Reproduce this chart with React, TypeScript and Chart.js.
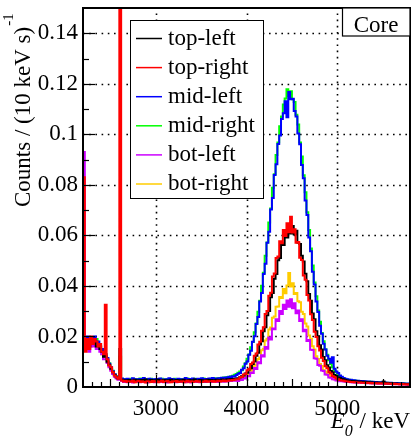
import React, { useEffect, useRef } from "react";
import { Chart, registerables } from "chart.js";

Chart.register(...registerables);

// ---- data (counts per 20 keV bin, bins start at 2200 keV) ----
const BIN_START = 2200;
const BIN_WIDTH = 20;
const X_MIN = 2200;
const X_MAX = 5800;
const Y_MAX = 0.15;

const seriesLabels = ["top-left", "top-right", "mid-left", "mid-right", "bot-left", "bot-right"];
const seriesColors = ["#000000", "#ff0000", "#0000ff", "#00ff00", "#cc00ff", "#ffcc00"];
const seriesDrawOrder = [1, 0, 4, 5, 2, 3]; // lower = drawn on top

const xTickValues = [3000, 4000, 5000];
const yTickValues = [0, 0.02, 0.04, 0.06, 0.08, 0.1, 0.12, 0.14];

const topLeft = [
  0.019, 0.015, 0.017, 0.016, 0.018, 0.017, 0.018, 0.016, 0.016, 0.015,
  0.014, 0.012, 0.013, 0.010, 0.0088, 0.0072, 0.0058, 0.0047, 0.0039, 0.0034,
  0.015,
  0.0029, 0.0025, 0.0027, 0.0023, 0.0028, 0.0026, 0.0024, 0.0029, 0.0025, 0.0027,
  0.0022, 0.0028, 0.0026, 0.0030, 0.0024, 0.0026, 0.0028, 0.0023, 0.0027, 0.0025,
  0.0029, 0.0024, 0.0026, 0.0028, 0.0022, 0.0027, 0.0025, 0.0029, 0.0026, 0.0024,
  0.0028, 0.0025, 0.0027, 0.0023, 0.0029, 0.0026, 0.0024, 0.0028, 0.0025, 0.0027,
  0.0030, 0.0024, 0.0026, 0.0028, 0.0025, 0.0027, 0.0023, 0.0029, 0.0026, 0.0028,
  0.0025, 0.0027, 0.0029, 0.0026, 0.0028, 0.0030, 0.0027, 0.0029, 0.0031, 0.0028,
  0.0032, 0.0030, 0.0033, 0.0034,
  0.0035, 0.0039, 0.0043, 0.0046, 0.0053, 0.0056, 0.0069, 0.0074, 0.0091, 0.0101,
  0.0124, 0.0136, 0.0168, 0.0181, 0.0221, 0.0236, 0.0284, 0.0301, 0.0355, 0.0372,
  0.0428, 0.0447, 0.0502, 0.0511, 0.0568, 0.0562, 0.0611, 0.0592, 0.0641, 0.0608,
  0.0637, 0.0604, 0.0618, 0.0571, 0.0566, 0.0519, 0.0497, 0.0448, 0.0419, 0.0368,
  0.0341, 0.0291, 0.0268, 0.0221, 0.0201, 0.0165, 0.0148, 0.0119, 0.0106, 0.0086,
  0.0077, 0.0063, 0.0058, 0.0047, 0.0044, 0.0038, 0.0036, 0.0032, 0.0031, 0.0028,
  0.0026, 0.0025, 0.0024, 0.0024, 0.0022, 0.0023, 0.0021, 0.0022, 0.0020, 0.0021,
  0.0019, 0.0020, 0.0018, 0.0019, 0.0018, 0.0017, 0.0018, 0.0016, 0.0017, 0.0016,
  0.0022, 0.0016, 0.0015, 0.0014, 0.0015, 0.0014, 0.0013, 0.0014, 0.0013, 0.0013,
  0.0012, 0.0013, 0.0012, 0.0012, 0.0011,
];

const topRight = [
  0.083, 0.014, 0.019, 0.015, 0.020, 0.017, 0.019, 0.018, 0.016, 0.017,
  0.014, 0.013, 0.0326, 0.011, 0.0085, 0.0078, 0.0058, 0.0046, 0.0039, 0.0033,
  0.2,
  0.0026, 0.0022, 0.0024, 0.0020, 0.0023, 0.0021, 0.0025, 0.0019, 0.0022, 0.0024,
  0.0020, 0.0023, 0.0021, 0.0018, 0.0023, 0.0022, 0.0020, 0.0024, 0.0021, 0.0023,
  0.0019, 0.0022, 0.0025, 0.0020, 0.0022, 0.0024, 0.0021, 0.0019, 0.0023, 0.0021,
  0.0024, 0.0020, 0.0022, 0.0023, 0.0019, 0.0022, 0.0025, 0.0021, 0.0023, 0.0020,
  0.0022, 0.0024, 0.0021, 0.0023, 0.0020, 0.0022, 0.0025, 0.0021, 0.0023, 0.0022,
  0.0024, 0.0021, 0.0023, 0.0025, 0.0022, 0.0024, 0.0026, 0.0023, 0.0025, 0.0027,
  0.0026, 0.0028, 0.0029, 0.0031,
  0.0031, 0.0039, 0.0040, 0.0049, 0.0052, 0.0066, 0.0071, 0.0091, 0.0097, 0.0124,
  0.0133, 0.0168, 0.0179, 0.0223, 0.0236, 0.0289, 0.0301, 0.0361, 0.0373, 0.0437,
  0.0449, 0.0511, 0.0516, 0.0577, 0.0569, 0.0621, 0.0598, 0.0648, 0.0612, 0.0674,
  0.0611, 0.0624, 0.0571, 0.0574, 0.0512, 0.0503, 0.0441, 0.0424, 0.0364, 0.0342,
  0.0288, 0.0265, 0.0219, 0.0198, 0.0161, 0.0144, 0.0116, 0.0103, 0.0082, 0.0074,
  0.0059, 0.0053, 0.0044, 0.0040, 0.0034, 0.0031, 0.0028, 0.0026, 0.0025, 0.0023,
  0.0022, 0.0021, 0.0020, 0.0020, 0.0019, 0.0019, 0.0018, 0.0018, 0.0017, 0.0017,
  0.0016, 0.0017, 0.0016, 0.0015, 0.0016, 0.0015, 0.0015, 0.0014, 0.0015, 0.0014,
  0.0014, 0.0013, 0.0014, 0.0013, 0.0013, 0.0012, 0.0013, 0.0012, 0.0012, 0.0011,
  0.0012, 0.0011, 0.0011, 0.0010, 0.0011,
];

const midLeft = [
  0.018, 0.017, 0.020, 0.016, 0.019, 0.018, 0.020, 0.017, 0.018, 0.016,
  0.015, 0.013, 0.012, 0.0115, 0.0092, 0.0078, 0.0062, 0.0050, 0.0042, 0.0037,
  0.0035,
  0.0034, 0.0031, 0.0029, 0.0033, 0.0027, 0.0030, 0.0035, 0.0028, 0.0031, 0.0026,
  0.0032, 0.0029, 0.0036, 0.0027, 0.0030, 0.0033, 0.0028, 0.0031, 0.0025, 0.0032,
  0.0029, 0.0034, 0.0027, 0.0030, 0.0031, 0.0028, 0.0035, 0.0029, 0.0032, 0.0026,
  0.0030, 0.0033, 0.0028, 0.0031, 0.0029, 0.0036, 0.0027, 0.0032, 0.0030, 0.0034,
  0.0028, 0.0031, 0.0033, 0.0029, 0.0035, 0.0030, 0.0032, 0.0028, 0.0034, 0.0031,
  0.0036, 0.0030, 0.0033, 0.0035, 0.0031, 0.0037, 0.0034, 0.0038, 0.0036, 0.0041,
  0.0039, 0.0043, 0.0042, 0.0047,
  0.0052, 0.0055, 0.0068, 0.0074, 0.0092, 0.0101, 0.0128, 0.0143, 0.0179, 0.0201,
  0.0249, 0.0277, 0.0338, 0.0372, 0.0447, 0.0488, 0.0571, 0.0614, 0.0703, 0.0748,
  0.0839, 0.0882, 0.0962, 0.0995, 0.1061, 0.1083, 0.1131, 0.1068, 0.1168, 0.1139,
  0.1141, 0.1092, 0.1071, 0.1003, 0.0961, 0.0879, 0.0826, 0.0738, 0.0681, 0.0592,
  0.0537, 0.0456, 0.0406, 0.0338, 0.0297, 0.0242, 0.0211, 0.0171, 0.0148, 0.0124,
  0.0112, 0.0096, 0.0118, 0.0072, 0.0061, 0.0055, 0.0046, 0.0041, 0.0036, 0.0033,
  0.0031, 0.0028, 0.0029, 0.0026, 0.0027, 0.0024, 0.0025, 0.0023, 0.0024, 0.0022,
  0.0023, 0.0021, 0.0022, 0.0020, 0.0021, 0.0019, 0.0020, 0.0019, 0.0018, 0.0019,
  0.0017, 0.0018, 0.0017, 0.0016, 0.0017, 0.0016, 0.0015, 0.0016, 0.0015, 0.0014,
  0.0015, 0.0014, 0.0014, 0.0013, 0.0014,
];

const midRight = [
  0.019, 0.016, 0.018, 0.018, 0.017, 0.019, 0.018, 0.019, 0.017, 0.016,
  0.015, 0.0135, 0.012, 0.0105, 0.0094, 0.0074, 0.0064, 0.0049, 0.0043, 0.0036,
  0.0033,
  0.0031, 0.0028, 0.0032, 0.0027, 0.0030, 0.0033, 0.0026, 0.0029, 0.0031, 0.0028,
  0.0034, 0.0027, 0.0029, 0.0032, 0.0026, 0.0030, 0.0033, 0.0028, 0.0030, 0.0027,
  0.0031, 0.0029, 0.0033, 0.0026, 0.0030, 0.0032, 0.0028, 0.0031, 0.0027, 0.0033,
  0.0029, 0.0028, 0.0032, 0.0030, 0.0027, 0.0031, 0.0034, 0.0028, 0.0030, 0.0029,
  0.0033, 0.0027, 0.0031, 0.0030, 0.0028, 0.0034, 0.0029, 0.0032, 0.0030, 0.0033,
  0.0031, 0.0035, 0.0032, 0.0034, 0.0036, 0.0033, 0.0038, 0.0036, 0.0040, 0.0039,
  0.0043, 0.0045, 0.0048, 0.0051,
  0.0056, 0.0061, 0.0066, 0.0081, 0.0094, 0.0112, 0.0129, 0.0157, 0.0178, 0.0217,
  0.0251, 0.0298, 0.0341, 0.0401, 0.0452, 0.0519, 0.0572, 0.0651, 0.0706, 0.0789,
  0.0842, 0.0918, 0.0968, 0.1032, 0.1071, 0.1118, 0.1142, 0.1178, 0.1152, 0.1171,
  0.1139, 0.1128, 0.1078, 0.1039, 0.0968, 0.0912, 0.0838, 0.0771, 0.0692, 0.0621,
  0.0548, 0.0481, 0.0414, 0.0359, 0.0303, 0.0258, 0.0214, 0.0181, 0.0149, 0.0128,
  0.0106, 0.0091, 0.0078, 0.0066, 0.0058, 0.0051, 0.0044, 0.0039, 0.0035, 0.0032,
  0.0030, 0.0029, 0.0027, 0.0027, 0.0025, 0.0025, 0.0024, 0.0023, 0.0022, 0.0023,
  0.0021, 0.0021, 0.0020, 0.0021, 0.0019, 0.0020, 0.0018, 0.0019, 0.0018, 0.0017,
  0.0018, 0.0016, 0.0017, 0.0016, 0.0015, 0.0016, 0.0015, 0.0014, 0.0015, 0.0014,
  0.0013, 0.0014, 0.0013, 0.0013, 0.0012,
];

const botLeft = [
  0.093, 0.015, 0.016, 0.014, 0.017, 0.016, 0.017, 0.015, 0.015, 0.014,
  0.013, 0.011, 0.011, 0.0095, 0.0078, 0.0064, 0.0051, 0.0041, 0.0034, 0.0029,
  0.0030,
  0.0024, 0.0020, 0.0022, 0.0019, 0.0023, 0.0021, 0.0018, 0.0022, 0.0020, 0.0024,
  0.0019, 0.0021, 0.0023, 0.0020, 0.0018, 0.0022, 0.0021, 0.0024, 0.0019, 0.0021,
  0.0022, 0.0020, 0.0023, 0.0019, 0.0021, 0.0018, 0.0022, 0.0020, 0.0024, 0.0021,
  0.0019, 0.0022, 0.0020, 0.0023, 0.0021, 0.0019, 0.0022, 0.0020, 0.0018, 0.0023,
  0.0021, 0.0020, 0.0022, 0.0019, 0.0023, 0.0021, 0.0020, 0.0022, 0.0024, 0.0020,
  0.0022, 0.0021, 0.0023, 0.0020, 0.0022, 0.0024, 0.0021, 0.0023, 0.0022, 0.0025,
  0.0024, 0.0026, 0.0025, 0.0027,
  0.0024, 0.0031, 0.0028, 0.0036, 0.0034, 0.0044, 0.0043, 0.0057, 0.0055, 0.0075,
  0.0071, 0.0098, 0.0094, 0.0126, 0.0121, 0.0158, 0.0151, 0.0196, 0.0188, 0.0232,
  0.0229, 0.0268, 0.0261, 0.0301, 0.0289, 0.0326, 0.0309, 0.0342, 0.0318, 0.0347,
  0.0312, 0.0331, 0.0292, 0.0303, 0.0261, 0.0268, 0.0221, 0.0227, 0.0182, 0.0186,
  0.0147, 0.0146, 0.0114, 0.0112, 0.0087, 0.0084, 0.0065, 0.0063, 0.0049, 0.0048,
  0.0038, 0.0037, 0.0031, 0.0030, 0.0026, 0.0026, 0.0023, 0.0023, 0.0022, 0.0021,
  0.0020, 0.0020, 0.0019, 0.0018, 0.0019, 0.0017, 0.0018, 0.0017, 0.0016, 0.0017,
  0.0016, 0.0015, 0.0016, 0.0015, 0.0014, 0.0015, 0.0014, 0.0013, 0.0014, 0.0013,
  0.0013, 0.0012, 0.0013, 0.0012, 0.0012, 0.0011, 0.0012, 0.0011, 0.0011, 0.0010,
  0.0011, 0.0010, 0.0010, 0.0009, 0.0010,
];

const botRight = [
  0.017, 0.016, 0.017, 0.018, 0.016, 0.018, 0.017, 0.017, 0.016, 0.015,
  0.013, 0.012, 0.012, 0.0098, 0.0083, 0.0068, 0.0055, 0.0044, 0.0036, 0.0031,
  0.012,
  0.0025, 0.0021, 0.0023, 0.0024, 0.0020, 0.0022, 0.0023, 0.0021, 0.0019, 0.0023,
  0.0022, 0.0020, 0.0024, 0.0021, 0.0022, 0.0019, 0.0023, 0.0022, 0.0020, 0.0024,
  0.0021, 0.0023, 0.0020, 0.0022, 0.0024, 0.0021, 0.0019, 0.0022, 0.0023, 0.0020,
  0.0022, 0.0024, 0.0021, 0.0020, 0.0023, 0.0022, 0.0019, 0.0024, 0.0021, 0.0022,
  0.0020, 0.0023, 0.0022, 0.0021, 0.0024, 0.0020, 0.0022, 0.0023, 0.0021, 0.0024,
  0.0022, 0.0023, 0.0021, 0.0024, 0.0023, 0.0022, 0.0025, 0.0024, 0.0023, 0.0026,
  0.0025, 0.0027, 0.0026, 0.0028,
  0.0027, 0.0033, 0.0032, 0.0039, 0.0040, 0.0049, 0.0051, 0.0064, 0.0068, 0.0084,
  0.0089, 0.0111, 0.0117, 0.0145, 0.0151, 0.0184, 0.0191, 0.0228, 0.0235, 0.0274,
  0.0279, 0.0318, 0.0319, 0.0356, 0.0352, 0.0388, 0.0371, 0.0402, 0.0451, 0.0398,
  0.0411, 0.0368, 0.0372, 0.0339, 0.0335, 0.0298, 0.0289, 0.0251, 0.0239, 0.0204,
  0.0191, 0.0161, 0.0148, 0.0122, 0.0111, 0.0091, 0.0083, 0.0067, 0.0061, 0.0051,
  0.0046, 0.0039, 0.0037, 0.0031, 0.0030, 0.0027, 0.0026, 0.0024, 0.0024, 0.0023,
  0.0022, 0.0021, 0.0021, 0.0020, 0.0019, 0.0020, 0.0018, 0.0019, 0.0017, 0.0018,
  0.0017, 0.0016, 0.0017, 0.0016, 0.0015, 0.0016, 0.0015, 0.0014, 0.0015, 0.0014,
  0.0013, 0.0014, 0.0013, 0.0013, 0.0012, 0.0013, 0.0012, 0.0011, 0.0012, 0.0011,
  0.0011, 0.0010, 0.0011, 0.0010, 0.0010,
];

const seriesCounts = [topLeft, topRight, midLeft, midRight, botLeft, botRight];

const FONT = '"Liberation Serif", "Times New Roman", serif';

const rootDecor = {
  id: "rootDecor",
  beforeDatasetsDraw(chart: any) {
    const { ctx, chartArea: a, scales } = chart;
    const x = scales.x, y = scales.y;
    ctx.save();
    ctx.strokeStyle = "#000";
    ctx.lineWidth = 1.6;
    ctx.setLineDash([1.6, 4.6]);
    for (const v of xTickValues) {
      const px = Math.round(x.getPixelForValue(v)) + 0.5;
      ctx.beginPath();
      ctx.moveTo(px, a.bottom);
      ctx.lineTo(px, a.top);
      ctx.stroke();
    }
    for (const v of yTickValues) {
      if (v === 0) continue;
      const py = Math.round(y.getPixelForValue(v)) + 0.5;
      ctx.beginPath();
      ctx.moveTo(a.left, py);
      ctx.lineTo(a.right, py);
      ctx.stroke();
    }
    ctx.restore();
  },
  afterDatasetsDraw(chart: any) {
    const { ctx, chartArea: a, scales } = chart;
    const x = scales.x, y = scales.y;
    ctx.save();
    ctx.strokeStyle = "#000";
    ctx.lineWidth = 1.2;
    for (let e = 2300; e < X_MAX; e += 100) {
      const px = Math.round(x.getPixelForValue(e)) + 0.5;
      const len = e % 1000 === 0 ? 12 : e % 500 === 0 ? 8 : 5;
      ctx.beginPath();
      ctx.moveTo(px, a.bottom);
      ctx.lineTo(px, a.bottom - len);
      ctx.stroke();
    }
    for (let k = 1; k < 15; k++) {
      const v = k * 0.01;
      const py = Math.round(y.getPixelForValue(v)) + 0.5;
      const len = k % 2 === 0 ? 12 : 6;
      ctx.beginPath();
      ctx.moveTo(a.left, py);
      ctx.lineTo(a.left + len, py);
      ctx.stroke();
    }
    ctx.lineWidth = 2;
    ctx.strokeRect(a.left, a.top, a.right - a.left, a.bottom - a.top);
    ctx.restore();
  },
  afterDraw(chart: any) {
    const { ctx, chartArea: a } = chart;
    ctx.save();
    // legend box
    const lx = 130, ly = 20, lw = 133, lh = 178;
    ctx.fillStyle = "#fff";
    ctx.fillRect(lx, ly, lw, lh);
    ctx.strokeStyle = "#000";
    ctx.lineWidth = 1;
    ctx.strokeRect(lx + 0.5, ly + 0.5, lw, lh);
    ctx.font = `23px ${FONT}`;
    ctx.textAlign = "left";
    ctx.textBaseline = "alphabetic";
    seriesLabels.forEach((lab, i) => {
      const ry = 38.5 + i * 29.1;
      ctx.strokeStyle = seriesColors[i];
      ctx.lineWidth = 1.5;
      ctx.beginPath();
      ctx.moveTo(136, ry);
      ctx.lineTo(162, ry);
      ctx.stroke();
      ctx.fillStyle = "#000";
      ctx.fillText(lab, 168, ry + 6);
    });
    // Core box
    const cTop = a.top;
    ctx.fillStyle = "#fff";
    ctx.fillRect(342, cTop, a.right - 342, 28);
    ctx.strokeStyle = "#000";
    ctx.lineWidth = 1.2;
    ctx.strokeRect(342.5, cTop, a.right - 342.5, 28);
    ctx.fillStyle = "#000";
    ctx.textAlign = "center";
    ctx.fillText("Core", 376, cTop + 24);
    // y title
    ctx.save();
    ctx.translate(30, 207);
    ctx.rotate(-Math.PI / 2);
    ctx.textAlign = "left";
    ctx.font = `23px ${FONT}`;
    const main = "Counts / (10 keV s)";
    ctx.fillText(main, 0, 0);
    const mw = ctx.measureText(main).width;
    ctx.font = `15px ${FONT}`;
    ctx.fillText("-1", mw + 1, -17);
    ctx.restore();
    // x title
    ctx.textAlign = "left";
    ctx.font = `italic 23px ${FONT}`;
    const wE = ctx.measureText("E").width;
    ctx.font = `italic 16px ${FONT}`;
    const w0 = ctx.measureText("0").width;
    ctx.font = `23px ${FONT}`;
    const rest = " / keV";
    const wr = ctx.measureText(rest).width;
    let sx = 410 - (wE + w0 + 1 + wr);
    ctx.font = `italic 23px ${FONT}`;
    ctx.fillText("E", sx, 428);
    sx += wE;
    ctx.font = `italic 16px ${FONT}`;
    ctx.fillText("0", sx, 436);
    sx += w0 + 1;
    ctx.font = `23px ${FONT}`;
    ctx.fillText(rest, sx, 428);
    ctx.restore();
  },
};

export default function App() {
  const ref = useRef<HTMLCanvasElement | null>(null);
  useEffect(() => {
    document.body.style.margin = "0";
    const canvas = ref.current;
    if (!canvas) return;
    const datasets = seriesCounts.map((counts, i) => {
      const pts = counts.map((c, k) => ({ x: BIN_START + k * BIN_WIDTH, y: c }));
      pts.push({ x: BIN_START + counts.length * BIN_WIDTH, y: counts[counts.length - 1] });
      return {
        label: seriesLabels[i],
        data: pts,
        borderColor: seriesColors[i],
        backgroundColor: seriesColors[i],
        borderWidth: 2,
        pointRadius: 0,
        stepped: "before" as const,
        fill: false,
        tension: 0,
        order: seriesDrawOrder[i],
      };
    });
    const chart = new Chart(canvas, {
      type: "line",
      data: { datasets },
      options: {
        responsive: false,
        animation: false,
        devicePixelRatio: 1,
        layout: { padding: { top: 8, right: 1, left: 0, bottom: 0 } },
        plugins: { legend: { display: false }, tooltip: { enabled: false } },
        scales: {
          x: {
            type: "linear",
            min: X_MIN,
            max: X_MAX,
            grid: { display: false, drawTicks: false },
            border: { display: false },
            ticks: {
              font: { family: FONT, size: 23 },
              color: "#000",
              padding: 8,
              maxRotation: 0,
              autoSkip: false,
              callback: (v: any) => String(v),
            },
            afterBuildTicks: (s: any) => {
              s.ticks = xTickValues.map((v) => ({ value: v }));
            },
            afterFit: (s: any) => {
              s.height = 53;
              s.paddingLeft = 0;
              s.paddingRight = 0;
              s.paddingTop = 0;
              s.paddingBottom = 0;
            },
          },
          y: {
            type: "linear",
            min: 0,
            max: Y_MAX,
            grid: { display: false, drawTicks: false },
            border: { display: false },
            ticks: {
              font: { family: FONT, size: 23 },
              color: "#000",
              padding: 5,
              callback: (v: any) => String(Math.round(Number(v) * 1000) / 1000),
            },
            afterBuildTicks: (s: any) => {
              s.ticks = yTickValues.map((v) => ({ value: v }));
            },
            afterFit: (s: any) => {
              s.width = 83;
              s.paddingLeft = 0;
              s.paddingRight = 0;
              s.paddingTop = 0;
              s.paddingBottom = 0;
            },
          },
        },
      },
      plugins: [rootDecor],
    });
    return () => chart.destroy();
  }, []);
  return (
    <div style={{ width: 411, height: 440 }}>
      <canvas ref={ref} width={411} height={440} style={{ display: "block" }} />
    </div>
  );
}
